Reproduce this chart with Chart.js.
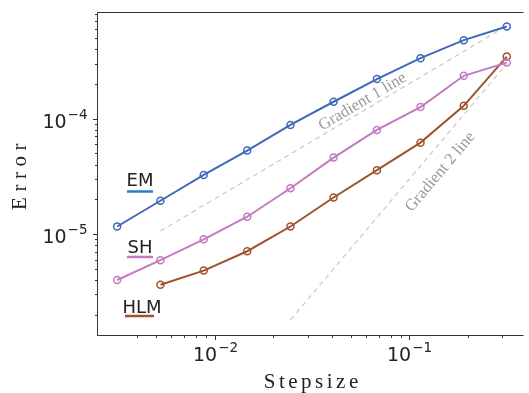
<!DOCTYPE html>
<html>
<head>
<meta charset="utf-8">
<script src="https://cdn.jsdelivr.net/npm/chart.js@4.4.0/dist/chart.umd.min.js"></script>
<style>
html, body { margin: 0; padding: 0; background: #fff; }
canvas { display: block; }
</style>
</head>
<body>
<canvas id="chart" width="529" height="393"></canvas>
<script>
let stepsizes = [0.00316, 0.00527, 0.00879, 0.0147, 0.0245, 0.0408, 0.0681, 0.114, 0.190, 0.316];
let emError = [1.16e-5, 1.94e-5, 3.25e-5, 5.28e-5, 8.82e-5, 1.40e-4, 2.20e-4, 3.34e-4, 4.79e-4, 6.28e-4];
let shError = [3.99e-6, 5.92e-6, 8.99e-6, 1.41e-5, 2.49e-5, 4.59e-5, 7.98e-5, 1.26e-4, 2.35e-4, 3.06e-4];
let hlmError = [null, 3.63e-6, 4.81e-6, 7.08e-6, 1.16e-5, 2.07e-5, 3.57e-5, 6.19e-5, 1.29e-4, 3.45e-4];
let seriesNames = ['EM', 'SH', 'HLM'];

let gradient1X = [0.00527, 0.316];
let gradient1Y = [1.06e-5, 6.36e-4];
let gradient2X = [0.0245, 0.316];
let gradient2Y = [1.80e-6, 2.99e-4];
let gradientLabels = ['Gradient 1 line', 'Gradient 2 line'];

let xLabel = 'Stepsize';
let yLabel = 'Error';

function pairs(xs, ys) {
    let out = [];
    for (let i = 0; i < xs.length; i++) {
        if (ys[i] !== null) out.push({x: xs[i], y: ys[i]});
    }
    return out;
}

function series(name, values, color) {
    return {
        label: name,
        data: pairs(stepsizes, values),
        borderColor: color,
        borderWidth: 2,
        pointRadius: 3.5,
        pointBorderWidth: 1.5,
        pointBorderColor: color,
        pointBackgroundColor: 'rgba(0,0,0,0)',
        order: 1
    };
}

function guide(xs, ys) {
    return {
        data: pairs(xs, ys),
        borderColor: '#c8c8c8',
        borderWidth: 1.2,
        borderDash: [5, 4],
        pointRadius: 0,
        order: 5
    };
}

// power-of-ten label: "10" with a raised exponent
function drawPower(ctx, exp, x, baseline, align) {
    ctx.font = '19px "DejaVu Sans"';
    let w1 = ctx.measureText('10').width;
    let sup = '\u2212' + Math.abs(exp);
    ctx.font = '13.5px "DejaVu Sans"';
    let w2 = ctx.measureText(sup).width;
    let total = w1 + 1 + w2;
    let left = align === 'right' ? x - total : x - total / 2;
    ctx.textAlign = 'left';
    ctx.textBaseline = 'alphabetic';
    ctx.font = '19px "DejaVu Sans"';
    ctx.fillText('10', left, baseline);
    ctx.font = '13.5px "DejaVu Sans"';
    ctx.fillText(sup, left + w1 + 1, baseline - 9);
}

function tickInfo(value) {
    let e = Math.floor(Math.log10(value) + 1e-9);
    let m = value / Math.pow(10, e);
    if (Math.abs(m - Math.round(m)) > 1e-4) return null;
    return {major: Math.round(m) === 1 || Math.round(m) === 10, exp: Math.round(Math.log10(value))};
}

let legendSpots = [
    {text: seriesNames[0], color: '#2a7cc4', cx: 140, base: 186, lineY: 191.5, x0: 127, x1: 153},
    {text: seriesNames[1], color: '#c27ac0', cx: 140, base: 253, lineY: 257, x0: 127, x1: 153},
    {text: seriesNames[2], color: '#a0522d', cx: 142, base: 312.5, lineY: 316, x0: 125, x1: 154}
];
let gradientSpots = [
    {dataset: 3, x: 0.0575, y: 1.40e-4},
    {dataset: 4, x: 0.1440, y: 3.45e-5}
];

const axesPlugin = {
    id: 'axesPlugin',
    afterDraw(chart) {
        let ctx = chart.ctx;
        let area = chart.chartArea;
        let xs = chart.scales.x;
        let ys = chart.scales.y;
        ctx.save();

        // spines
        ctx.strokeStyle = '#333';
        ctx.lineWidth = 1;
        ctx.beginPath();
        ctx.moveTo(area.right, area.top + 0.5);
        ctx.lineTo(area.left - 0.5, area.top + 0.5);
        ctx.lineTo(area.left - 0.5, area.bottom + 0.5);
        ctx.lineTo(area.right, area.bottom + 0.5);
        ctx.stroke();

        ctx.fillStyle = '#222';
        ys.ticks.forEach(t => {
            let info = tickInfo(t.value);
            if (!info) return;
            let py = Math.round(ys.getPixelForValue(t.value)) + 0.5;
            ctx.beginPath();
            ctx.moveTo(area.left - 0.5, py);
            ctx.lineTo(area.left - (info.major ? 5 : 3), py);
            ctx.stroke();
            if (info.major) drawPower(ctx, info.exp, area.left - 10.5, py + 8.6, 'right');
        });
        xs.ticks.forEach(t => {
            let info = tickInfo(t.value);
            if (!info) return;
            let px = Math.round(xs.getPixelForValue(t.value)) + 0.5;
            ctx.beginPath();
            ctx.moveTo(px, area.bottom + 0.5);
            ctx.lineTo(px, area.bottom + (info.major ? 5 : 3));
            ctx.stroke();
            if (info.major) drawPower(ctx, info.exp, px, area.bottom + 26, 'center');
        });

        // axis titles
        ctx.font = '21px "Liberation Serif"';
        ctx.fillStyle = '#222';
        ctx.textBaseline = 'alphabetic';
        ctx.textAlign = 'center';
        ctx.letterSpacing = '3.5px';
        ctx.fillText(xLabel, (area.left + area.right) / 2 + 2, 387.5);
        ctx.save();
        ctx.translate(25.5, 177);
        ctx.rotate(-Math.PI / 2);
        ctx.letterSpacing = '5.5px';
        ctx.fillText(yLabel, 3, 0);
        ctx.restore();
        ctx.letterSpacing = '0px';

        // series labels with coloured underline
        ctx.font = '18px "DejaVu Sans"';
        legendSpots.forEach(s => {
            ctx.fillStyle = '#222';
            ctx.textAlign = 'center';
            ctx.fillText(s.text, s.cx, s.base);
            ctx.strokeStyle = s.color;
            ctx.lineWidth = 2.5;
            ctx.beginPath();
            ctx.moveTo(s.x0, s.lineY);
            ctx.lineTo(s.x1, s.lineY);
            ctx.stroke();
        });

        // gradient line captions, rotated along their lines
        ctx.font = '16.5px "Liberation Serif"';
        ctx.fillStyle = '#999';
        ctx.textAlign = 'center';
        ctx.textBaseline = 'middle';
        gradientSpots.forEach((g, i) => {
            let pts = chart.getDatasetMeta(g.dataset).data;
            let ang = Math.atan2(pts[1].y - pts[0].y, pts[1].x - pts[0].x);
            ctx.save();
            ctx.translate(xs.getPixelForValue(g.x), ys.getPixelForValue(g.y));
            ctx.rotate(ang);
            ctx.fillText(gradientLabels[i], 0, 0);
            ctx.restore();
        });

        ctx.restore();
    }
};

new Chart(document.getElementById('chart'), {
    type: 'line',
    data: {
        datasets: [
            series(seriesNames[0], emError, '#4169b9'),
            series(seriesNames[1], shError, '#c27ac0'),
            series(seriesNames[2], hlmError, '#a0522d'),
            guide(gradient1X, gradient1Y),
            guide(gradient2X, gradient2Y)
        ]
    },
    options: {
        responsive: false,
        animation: false,
        layout: {padding: {top: 12, left: 0, right: 0, bottom: 0}},
        plugins: {legend: {display: false}, tooltip: {enabled: false}},
        scales: {
            x: {
                type: 'logarithmic',
                min: 0.00252,
                max: 0.385,
                ticks: {display: false},
                grid: {display: false},
                border: {display: false},
                afterFit(s) { s.height = 58; }
            },
            y: {
                type: 'logarithmic',
                min: 1.33e-6,
                max: 8.4e-4,
                ticks: {display: false},
                grid: {display: false},
                border: {display: false},
                afterFit(s) { s.width = 98; }
            }
        }
    },
    plugins: [axesPlugin]
});
</script>
</body>
</html>
